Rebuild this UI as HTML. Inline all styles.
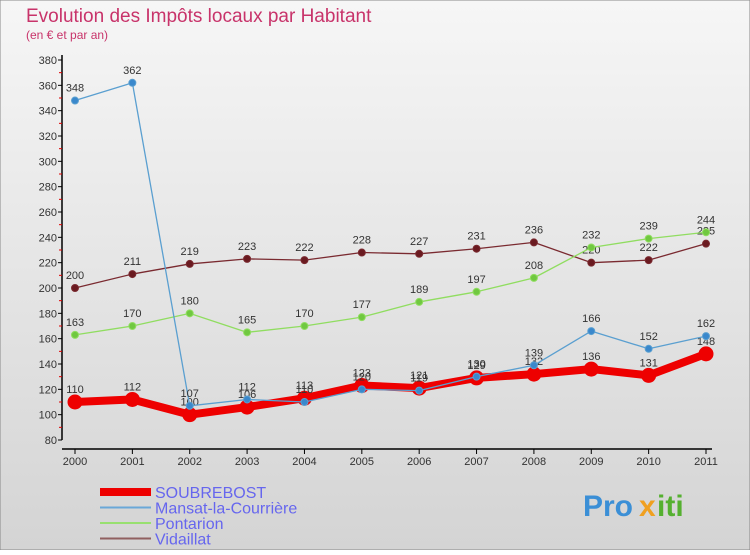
<!DOCTYPE html>
<html><head><meta charset="utf-8"><style>
body{margin:0;width:750px;height:550px;overflow:hidden;font-family:"Liberation Sans",sans-serif}
</style></head><body>
<svg id="c" width="750" height="550" xmlns="http://www.w3.org/2000/svg">
<defs><linearGradient id="bg" x1="0" y1="0" x2="0" y2="1"><stop offset="0" stop-color="#f6f6f6"/><stop offset="1" stop-color="#d4d4d4"/></linearGradient></defs>
<rect x="0" y="0" width="750" height="550" fill="url(#bg)" stroke="#888"/>
<text x="26" y="22" font-size="19" fill="#c8336a">Evolution des Impôts locaux par Habitant</text>
<text x="26" y="39" font-size="12" fill="#c8336a">(en € et par an)</text>
<g id="axes"></g><g id="series"></g><g id="legend"></g>
<g font-size="30" font-weight="bold">
<text x="583" y="516" fill="#3b8fd6">Pro</text><text x="639" y="516" fill="#f0a020">x</text><text x="657" y="516" fill="#55b030">iti</text>
</g>
</svg>
<script>
const years=["2000","2001","2002","2003","2004","2005","2006","2007","2008","2009","2010","2011"];
const yTicks=[80,100,120,140,160,180,200,220,240,260,280,300,320,340,360,380];
const soubrebost=[110,112,100,106,113,123,121,129,132,136,131,148];
const mansat=[348,362,107,112,110,120,119,130,139,166,152,162];
const pontarion=[163,170,180,165,170,177,189,197,208,232,239,244];
const vidaillat=[200,211,219,223,222,228,227,231,236,220,222,235];
const NS="http://www.w3.org/2000/svg";
const X=i=>75+i*(706-75)/(years.length-1);
const Y=v=>440-(v-80)*(380/300);
function mk(t,a,p){const e=document.createElementNS(NS,t);for(const k in a)e.setAttribute(k,a[k]);p.appendChild(e);return e;}
const ax=document.getElementById('axes');
let l=mk('line',{x1:62,y1:55,x2:62,y2:440,stroke:'#000','stroke-width':1.5},ax);


l=mk('line',{x1:62,y1:449,x2:712,y2:449,stroke:'#000','stroke-width':1.5},ax);


yTicks.forEach((v,i)=>{
 const t=mk('text',{x:57,y:Y(v)+4,'font-size':11,'text-anchor':'end',fill:'#333'},ax);t.textContent=v;
 
 
 mk('line',{x1:58,y1:Y(v),x2:62,y2:Y(v),stroke:'#000'},ax);
 if(i<yTicks.length-1)mk('line',{x1:59,y1:Y(v+10),x2:62,y2:Y(v+10),stroke:'#d00'},ax);
});
years.forEach((y,i)=>{
 mk('line',{x1:X(i),y1:449,x2:X(i),y2:454,stroke:'#000'},ax);
 const t=mk('text',{x:X(i),y:465,'font-size':11,'text-anchor':'middle',fill:'#333'},ax);t.textContent=y;
 
 
});
const sg=document.getElementById('series');
function draw(data,color,w,r,name,dot){
 const g=mk('g',{},sg);
 
 
 mk('polyline',{points:data.map((v,i)=>X(i)+','+Y(v)).join(' '),fill:'none',stroke:color,'stroke-width':w,'stroke-linejoin':'round'},g);
 data.forEach((v,i)=>{
  const c=mk('circle',{cx:X(i),cy:Y(v),r:r,fill:dot,stroke:color,'stroke-width':1},g);
  
  
  const t=mk('text',{x:X(i),y:Y(v)-9,'font-size':11,'text-anchor':'middle',fill:'#333'},g);t.textContent=v;
  
  
 });
}
draw(vidaillat,'#7a2a30',1.3,3.5,'vidaillat-series','#6a1a20');
draw(pontarion,'#90dd60',1.3,3.5,'pontarion-series','#70c840');
draw(soubrebost,'#ee0000',8,7,'soubrebost-series','#ee0000');
draw(mansat,'#5a9fd0',1.3,3.5,'mansat-series','#3a88cc');
const lg=document.getElementById('legend');
[["SOUBREBOST","#ee0000",8],["Mansat-la-Courrière","#6aa8d8",2],["Pontarion","#98e070",2],["Vidaillat","#906060",2]].forEach((s,i)=>{
 const y=492+i*15.5;
 const g=mk('g',{},lg);
 
 
 mk('line',{x1:100,y1:y,x2:151,y2:y,stroke:s[1],'stroke-width':s[2]},g);
 const t=mk('text',{x:155,y:y+6,'font-size':16,fill:'#6666ee'},g);t.textContent=s[0];
});
</script>
</body></html>
